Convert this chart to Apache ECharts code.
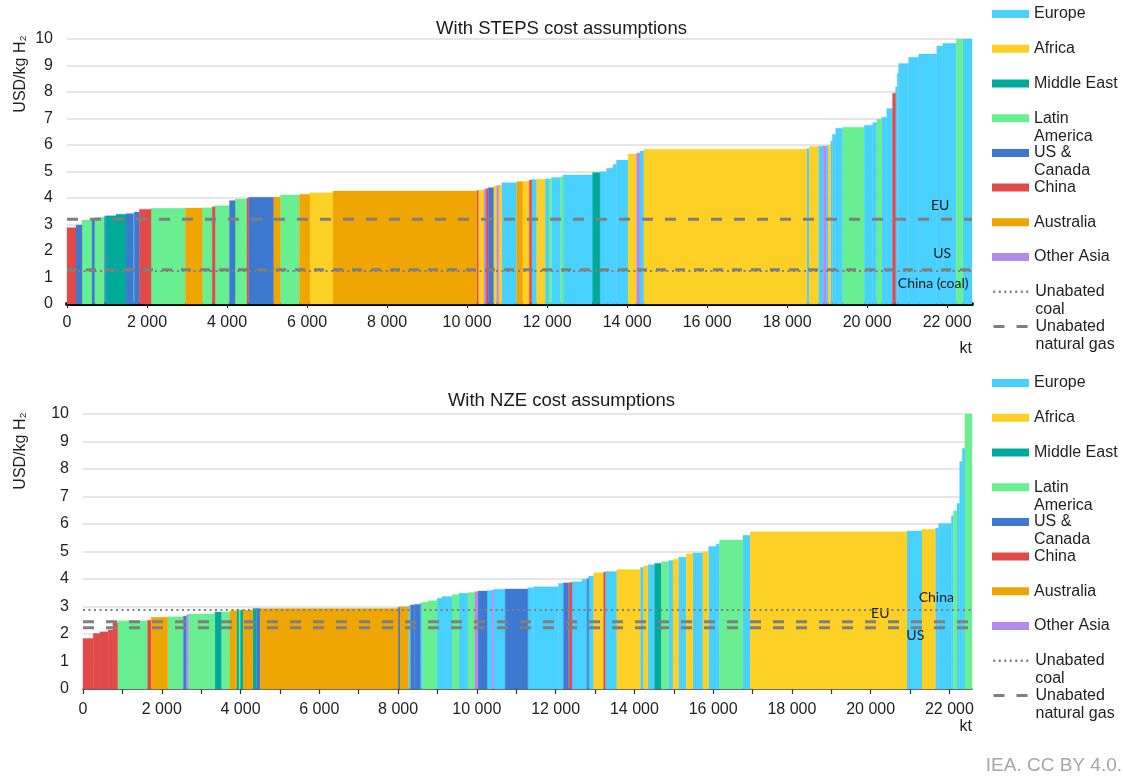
<!DOCTYPE html>
<html>
<head>
<meta charset="utf-8">
<script src="https://cdn.jsdelivr.net/npm/echarts@6/dist/echarts.min.js"></script>
<style>html,body{margin:0;padding:0;background:#fff}#c{width:1123px;height:777px}</style>
</head>
<body>
<div id="c"></div>
<script>
// ---------------- DATA ----------------
const regionNames = ['Europe', 'Africa', 'Middle East', 'Latin America', 'US & Canada', 'China', 'Australia', 'Other Asia'];
const regionCodes = ['EU', 'AF', 'ME', 'LA', 'US', 'CN', 'AU', 'OA'];

// STEPS: capacity of each tranche (kt), cost (USD/kg H2), region
const stepsCapacity = [225,150,250,65,245,25,265,250,185,20,130,290,860,420,250,70,360,140,300,40,630,160,480,260,580,3590,40,145,50,55,130,80,50,75,375,150,165,60,125,210,100,60,225,65,735,185,165,165,85,290,210,85,100,4070,60,230,120,80,50,60,40,85,175,535,215,100,125,125,145,75,40,35,250,250,455,150,335,165,230];
const stepsCost = [2.88,2.98,3.17,3.20,3.27,3.30,3.33,3.39,3.41,3.43,3.47,3.58,3.61,3.62,3.63,3.67,3.71,3.90,3.96,3.99,4.03,4.04,4.11,4.14,4.20,4.26,4.28,4.30,4.34,4.35,4.39,4.45,4.47,4.49,4.58,4.62,4.63,4.68,4.70,4.71,4.72,4.73,4.77,4.80,4.87,4.96,4.99,5.12,5.27,5.43,5.66,5.70,5.77,5.84,5.86,5.94,5.95,5.96,5.97,5.99,6.15,6.40,6.63,6.67,6.75,6.85,6.97,7.05,7.38,7.95,8.2,8.7,9.08,9.31,9.43,9.74,9.84,10,10];
const stepsRegion = ['CN','US','LA','US','LA','US','ME','ME','US','LA','US','CN','LA','AU','LA','CN','LA','US','LA','CN','US','AU','LA','AU','AF','AU','CN','AF','OA','CN','US','AF','OA','AF','EU','AU','AF','CN','EU','AF','EU','LA','EU','LA','EU','ME','EU','EU','EU','EU','AF','OA','EU','AF','EU','AF','EU','OA','EU','AF','EU','EU','EU','LA','EU','EU','LA','EU','EU','CN','EU','EU','EU','EU','EU','EU','EU','LA','EU'];

// NZE
const nzeCapacity = [260,170,210,120,120,760,90,420,400,80,45,675,170,210,170,60,30,80,240,100,90,3500,50,215,55,100,145,55,140,230,125,255,170,235,170,85,230,130,40,290,575,145,635,125,130,15,70,255,130,40,125,255,40,295,595,85,110,170,170,185,110,141,195,170,254,144,194,85,593,186,3980,381,338,85,324,50,92,68,68,67,178];
const nzeCost = [1.84,2.02,2.08,2.15,2.40,2.48,2.50,2.61,2.63,2.65,2.70,2.73,2.80,2.80,2.85,2.87,2.87,2.87,2.87,2.93,2.93,2.93,2.97,2.99,3.03,3.06,3.08,3.13,3.16,3.21,3.30,3.36,3.43,3.48,3.51,3.54,3.56,3.58,3.60,3.63,3.64,3.68,3.72,3.84,3.86,3.86,3.87,3.90,3.99,4.02,4.11,4.23,4.25,4.27,4.35,4.42,4.48,4.52,4.57,4.63,4.67,4.72,4.79,4.92,4.95,4.99,5.18,5.27,5.42,5.59,5.72,5.75,5.81,5.85,6.02,6.30,6.48,6.75,8.27,8.75,10];
const nzeRegion = ['CN','CN','CN','CN','CN','LA','CN','AU','LA','US','OA','LA','ME','LA','AU','ME','LA','ME','AU','ME','US','AU','US','AU','EU','US','US','EU','LA','LA','EU','EU','LA','EU','LA','OA','US','EU','OA','EU','US','EU','EU','EU','US','EU','CN','EU','EU','US','EU','AF','CN','EU','AF','EU','AF','EU','ME','LA','EU','AF','EU','AF','EU','AF','EU','EU','LA','EU','AF','EU','AF','EU','EU','EU','LA','EU','EU','EU','LA'];

// Reference cost levels (USD/kg H2)
const stepsRefs = { euGas: 3.20, usGas: 1.29, chinaCoal: 1.25 };
const nzeRefs = { chinaCoal: 2.87, euGas: 2.45, usGas: 2.23 };

const xTickLabels = [0,2000,4000,6000,8000,10000,12000,14000,16000,18000,20000,22000];
const nzeTickValues = [0,1000,2000,3000,4000,5000,6000,7000,8000,9000,10000,11000,12000,13000,14000,15000,16000,17000,18000,19000,20000,21000,22000];
const stepsXMax = 22620;
const nzeXMax = 22573;

// ---------------- STYLE ----------------
const regionColors = { EU:'#48D0FF', AF:'#FDD025', ME:'#00A99A', LA:'#68EF91', US:'#3E79D1', CN:'#E24949', AU:'#F0A602', OA:'#B38BEB' };
const FONT = '"Liberation Sans", Arial, sans-serif';
const LINE_GREY = '#7f7f7f';

function buildSegments(cap, cost, reg) {
  let acc = 0;
  return cap.map((w, i) => { const s = { start: acc, end: acc + w, cost: cost[i], region: reg[i] }; acc += w; return s; });
}
const stepsSegs = buildSegments(stepsCapacity, stepsCost, stepsRegion);
const nzeSegs = buildSegments(nzeCapacity, nzeCost, nzeRegion);

function renderItem(params, api) {
  const a = api.coord([api.value(0), api.value(2)]);
  const b = api.coord([api.value(1), 0]);
  const cs = params.coordSys;
  const shape = echarts.graphic.clipRectByRect(
    { x: a[0], y: a[1], width: b[0] - a[0], height: b[1] - a[1] },
    { x: cs.x, y: cs.y, width: cs.width, height: cs.height });
  const c = api.visual('color');
  return shape && { type: 'rect', shape: shape, style: { fill: c, stroke: c, lineWidth: 0.3 } };
}

function regionSeries(segs, gi) {
  return regionCodes.map((code, i) => ({
    name: regionNames[i], type: 'custom', xAxisIndex: gi, yAxisIndex: gi,
    renderItem: renderItem, itemStyle: { color: regionColors[code] },
    encode: { x: [0, 1], y: 2 }, z: 2, silent: true,
    data: segs.filter(s => s.region === code).map(s => [s.start, s.end, s.cost])
  }));
}

function refLine(name, value, xmax, gi, dash, width, labelText, labelX, labelY) {
  return {
    name: name, type: 'line', xAxisIndex: gi, yAxisIndex: gi, z: 5, silent: true,
    symbol: 'none', animation: false,
    lineStyle: { color: LINE_GREY, width: width, type: dash },
    itemStyle: { color: LINE_GREY },
    data: [[0, value], [xmax, value]],
    markPoint: {
      symbol: 'circle', symbolSize: 0, silent: true, animation: false,
      label: { show: true, position: 'inside', color: '#1a1a1a', fontSize: 14, fontFamily: 'Lato, "Noto Sans", sans-serif' },
      data: [{ coord: [labelX, labelY], label: { formatter: labelText } }]
    }
  };
}

const DASH = [11, 12];
const DOT = [2, 3.5];

const series = [
  refLine('Unabated natural gas', stepsRefs.euGas, stepsXMax, 0, DASH, 3, 'EU', 21825, 3.70),
  refLine('Unabated coal', stepsRefs.chinaCoal, stepsXMax, 0, DOT, 2, 'China (coal)', 21650, 0.79),
  refLine('Unabated natural gas', stepsRefs.usGas, stepsXMax, 0, [10, 9], 3, 'US', 21875, 1.89),
  refLine('Unabated coal', nzeRefs.chinaCoal, nzeXMax, 1, DOT, 2, 'China', 21666, 3.31),
  refLine('Unabated natural gas', nzeRefs.euGas, nzeXMax, 1, DASH, 3, 'EU', 20244, 2.76),
  refLine('Unabated natural gas', nzeRefs.usGas, nzeXMax, 1, DASH, 3, 'US', 21133, 1.93)
].concat(regionSeries(stepsSegs, 0), regionSeries(nzeSegs, 1));

// legends (one component per item for exact vertical spacing)
const legendItems = regionNames.concat(['Unabated coal', 'Unabated natural gas']);
// a leading blank line keeps the swatch aligned with the first visible line
const legendText = { 'Latin America': '\nLatin\nAmerica', 'US & Canada': '\nUS &\nCanada', 'Unabated coal': '\nUnabated\ncoal', 'Unabated natural gas': '\nUnabated\nnatural gas' };
function legends(baseY) {
  return legendItems.map((name, i) => {
    const twoLine = !!legendText[name];
    const isLine = name.indexOf('Unabated') === 0;
    const item = { name: name };
    if (!isLine) item.icon = 'rect';
    const leg = {
      type: 'plain', orient: 'vertical', left: 992, top: baseY + i * 34.72 - (twoLine ? 26 : 8), padding: 0,
      itemWidth: 37, itemHeight: 8, selectedMode: false,
      formatter: n => legendText[n] || n,
      textStyle: { fontSize: 16, lineHeight: 18, color: '#1f1f1f', fontFamily: FONT },
      data: [item]
    };
    if (isLine) {
      leg.lineStyle = { width: name === 'Unabated coal' ? 2.5 : 3 };
      leg.itemStyle = { opacity: 0, color: 'transparent', borderWidth: 0 };
    }
    return leg;
  });
}

const axisLabelStyle = { fontSize: 16, color: '#1f1f1f', fontFamily: FONT };
const kFormat = v => String(v).replace(/(\d)(?=(\d{3})+$)/g, '$1 ');

const option = {
  animation: false,
  backgroundColor: '#fff',
  title: [
    { text: 'With STEPS cost assumptions', left: 'center', top: 19, padding: 0, textStyle: { fontSize: 18.5, fontWeight: 'normal', color: '#1a1a1a', fontFamily: FONT } },
    { text: 'With NZE cost assumptions', left: 'center', top: 391, padding: 0, textStyle: { fontSize: 18.5, fontWeight: 'normal', color: '#1a1a1a', fontFamily: FONT } },
    { text: 'IEA. CC BY 4.0.', right: 1, top: 756, padding: 0, textStyle: { fontSize: 19, fontWeight: 'normal', color: '#a6a6a6', fontFamily: FONT } }
  ],
  legend: legends(13).concat(legends(382)),
  grid: [
    { left: 67, top: 39, width: 905, height: 265, containLabel: false },
    { left: 83, top: 414, width: 889, height: 275, containLabel: false }
  ],
  xAxis: [
    { type: 'value', gridIndex: 0, min: 0, max: stepsXMax, interval: 2000,
      splitLine: { show: false },
      axisLine: { show: true, onZero: false, lineStyle: { color: '#000', width: 4 } },
      axisTick: { show: true, length: 4, lineStyle: { color: '#222', width: 1 }, customValues: xTickLabels },
      axisLabel: Object.assign({ margin: 11, customValues: xTickLabels, formatter: kFormat }, axisLabelStyle),
      name: 'kt', nameLocation: 'end', nameGap: 0, nameMoveOverlap: false,
      nameTextStyle: { fontSize: 16, color: '#1f1f1f', fontFamily: FONT, align: 'right', verticalAlign: 'top', padding: [37, 0, 0, 0] }
    },
    { type: 'value', gridIndex: 1, min: 0, max: nzeXMax, interval: 1000,
      splitLine: { show: false },
      axisLine: { show: true, onZero: false, lineStyle: { color: '#333', width: 1.5 } },
      axisTick: { show: true, length: 5, lineStyle: { color: '#333', width: 1.2 }, customValues: nzeTickValues },
      axisLabel: Object.assign({ margin: 13, customValues: xTickLabels, formatter: kFormat }, axisLabelStyle),
      name: 'kt', nameLocation: 'end', nameGap: 0, nameMoveOverlap: false,
      nameTextStyle: { fontSize: 16, color: '#1f1f1f', fontFamily: FONT, align: 'right', verticalAlign: 'top', padding: [30, 0, 0, 0] }
    }
  ],
  yAxis: [
    { type: 'value', gridIndex: 0, min: 0, max: 10, interval: 1,
      axisLine: { show: false }, axisTick: { show: false },
      splitLine: { lineStyle: { color: '#dedede', width: 1.5 } },
      axisLabel: Object.assign({ margin: 14 }, axisLabelStyle) },
    { type: 'value', gridIndex: 1, min: 0, max: 10, interval: 1,
      axisLine: { show: false }, axisTick: { show: false },
      splitLine: { lineStyle: { color: '#dedede', width: 1.5 } },
      axisLabel: Object.assign({ margin: 14 }, axisLabelStyle) }
  ],
  graphic: [
    { type: 'text', x: 21, y: 74, rotation: Math.PI / 2, style: { text: 'USD/kg H₂', fontSize: 16, fill: '#1f1f1f', fontFamily: FONT, align: 'center', verticalAlign: 'middle' } },
    { type: 'text', x: 21, y: 451, rotation: Math.PI / 2, style: { text: 'USD/kg H₂', fontSize: 16, fill: '#1f1f1f', fontFamily: FONT, align: 'center', verticalAlign: 'middle' } }
  ],
  series: series
};

const chart = echarts.init(document.getElementById('c'), null, { renderer: 'canvas' });
chart.setOption(option);
</script>
</body>
</html>
